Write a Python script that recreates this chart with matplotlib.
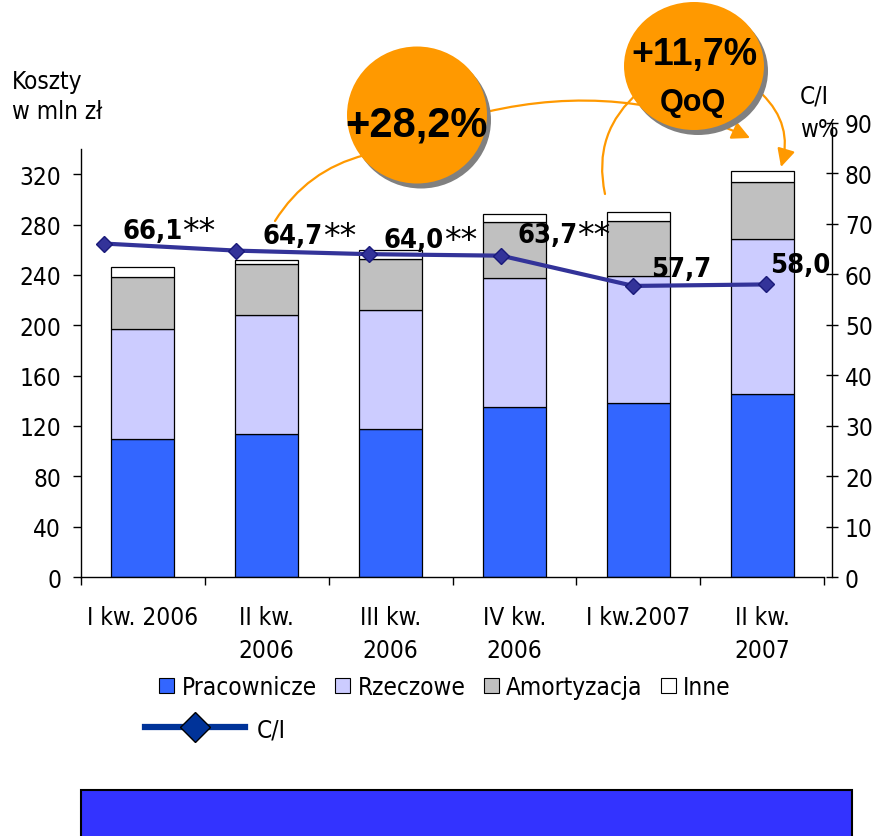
import matplotlib
matplotlib.use('Agg')
import matplotlib.pyplot as plt
from matplotlib.patches import Ellipse, Rectangle, FancyArrowPatch, Patch, ArrowStyle
from matplotlib.lines import Line2D
import numpy as np

plt.rcParams['font.family'] = ['DejaVu Sans']
plt.rcParams['font.stretch'] = 'condensed'

# ---------------- data ----------------
categories = ['I kw. 2006', 'II kw.\n2006', 'III kw.\n2006', 'IV kw.\n2006', 'I kw.2007', 'II kw.\n2007']
pracownicze = [109.5, 113.5, 117.5, 135.0, 138.0, 145.0]
rzeczowe = [87.8, 95.0, 94.6, 102.3, 100.9, 123.3]
amortyzacja = [40.7, 40.5, 40.9, 44.4, 43.6, 45.3]
inne = [7.9, 2.6, 7.0, 6.4, 7.3, 8.7]
ci_values = [66.1, 64.7, 64.0, 63.7, 57.7, 58.0]
ci_labels = ['66,1', '64,7', '64,0', '63,7', '57,7', '58,0']
ci_suffix = ['**', '**', '**', '**', '', '']
series_names = ['Pracownicze', 'Rzeczowe', 'Amortyzacja', 'Inne']
left_ticks = [0, 40, 80, 120, 160, 200, 240, 280, 320]
right_ticks = [0, 10, 20, 30, 40, 50, 60, 70, 80, 90]
bubble1_text = '+28,2%'
bubble2_text = '+11,7%'
bubble2_sub = 'QoQ'

# ---------------- styles ----------------
colors = ['#3366FF', '#CCCCFF', '#C0C0C0', '#FFFFFF']
line_color = '#333399'
orange = '#FF9900'
FS = 17.5
BUB_FONT = ['Liberation Sans', 'DejaVu Sans']

W, H = 876, 837
fig = plt.figure(figsize=(W / 100, H / 100), dpi=100)


def fx(x):
    return x / W


def fy(y):
    return 1 - y / H


# bar axes
ax = fig.add_axes([fx(81), fy(578), (824 - 81) / W, (578 - 150) / H])
x = np.arange(len(categories))
bottom = np.zeros(len(categories))
for vals, c, name in zip([pracownicze, rzeczowe, amortyzacja, inne], colors, series_names):
    ax.bar(x, vals, width=0.51, bottom=bottom, color=c, edgecolor='black', linewidth=0.9, label=name, zorder=2)
    bottom += np.array(vals)
ax.set_xlim(-0.5, 5.5)
ax.set_ylim(0, 340)
for s in ['top', 'right']:
    ax.spines[s].set_visible(False)
for s in ['left', 'bottom']:
    ax.spines[s].set_linewidth(1.0)
ax.set_yticks(left_ticks)
ax.tick_params(axis='y', direction='out', length=5.8, width=1.0, pad=8.5, labelsize=FS)
ax.set_xticks(np.arange(-0.5, 6.0, 1.0))
ax.set_xticklabels([])
ax.set_xticks(x, labels=categories, minor=True)
ax.tick_params(axis='x', which='major', direction='out', length=5.5, width=1.0)
ax.tick_params(axis='x', which='minor', length=0, pad=20.5, labelsize=FS)
for lab in ax.get_xticklabels(minor=True):
    lab.set_linespacing(1.45)

# line axes (secondary chart)
ax2 = fig.add_axes([fx(38), fy(578), (832 - 38) / W, (578 - 124) / H])
ax2.patch.set_visible(False)
ax2.set_xlim(-0.5, 5.5)
ax2.set_ylim(0, 90)
for s in ['top', 'left', 'bottom']:
    ax2.spines[s].set_visible(False)
ax2.spines['right'].set_linewidth(1.0)
ax2.yaxis.tick_right()
ax2.set_yticks(right_ticks)
ax2.set_xticks([])
ax2.tick_params(axis='y', direction='inout', length=8.6, width=1.0, pad=5, labelsize=FS)
ax2.plot(x, ci_values, color=line_color, lw=3, marker='D', ms=8, mfc=line_color, mec='#1a1a7a', mew=1, zorder=3)

lab_dx = [18, 26, 15, 16, 18, 4]
lab_dy = [6, 8, 7, 14, 10, 12]
for xi, v, lab, suf, dx, dy in zip(x, ci_values, ci_labels, ci_suffix, lab_dx, lab_dy):
    t = ax2.annotate(lab, (xi, v), xytext=(dx, dy), textcoords='offset pixels',
                     ha='left', va='baseline', fontsize=19.5, fontweight='bold', zorder=5)
    if suf:
        ax2.annotate(suf, xy=(1, 1), xycoords=t, xytext=(0, 3), textcoords='offset pixels',
                     ha='left', va='top', fontsize=24, stretch='normal', zorder=5)

# axis titles
fig.text(fx(12), fy(89), 'Koszty', fontsize=FS, ha='left', va='baseline')
fig.text(fx(12), fy(119), 'w mln zł', fontsize=FS, ha='left', va='baseline')
fig.text(fx(800), fy(103), 'C/I', fontsize=FS, ha='left', va='baseline')
fig.text(fx(800), fy(137), 'w%', fontsize=FS, ha='left', va='baseline')

# curved arrows
head = ArrowStyle('-|>', head_length=0.6, head_width=0.3)
arcs = [
    ((275, 222), (365, 156), -0.2, '-'),
    ((486, 113), (750, 139), -0.17, head),
    ((605, 195), (640, 92), -0.3, '-'),
    ((762, 95), (781, 168), -0.3, head),
]
for (a, b, rad, style) in arcs:
    p = FancyArrowPatch((fx(a[0]), fy(a[1])), (fx(b[0]), fy(b[1])), transform=fig.transFigure,
                        connectionstyle=f'arc3,rad={rad}', arrowstyle=style, mutation_scale=18,
                        color=orange, lw=1.6, shrinkA=0, shrinkB=0, zorder=5)
    fig.add_artist(p)

# bubbles
for (cx, cy, w, h) in [(417, 116, 140, 137), (694, 67, 140, 128)]:
    sh = Ellipse((fx(cx + 4), fy(cy + 5)), w / W, h / H, transform=fig.transFigure,
                 facecolor='#808080', edgecolor='none', zorder=6)
    fig.add_artist(sh)
    el = Ellipse((fx(cx), fy(cy)), w / W, h / H, transform=fig.transFigure,
                 facecolor=orange, edgecolor='none', zorder=7)
    fig.add_artist(el)

fig.text(fx(416), fy(137), bubble1_text, ha='center', va='baseline', fontsize=30, fontweight='bold',
         family=BUB_FONT, stretch='normal', zorder=8)
fig.text(fx(694), fy(65), bubble2_text, ha='center', va='baseline', fontsize=27, fontweight='bold',
         family=BUB_FONT, stretch='normal', zorder=8)
fig.text(fx(693), fy(111), bubble2_sub, ha='center', va='baseline', fontsize=22, fontweight='bold',
         family=BUB_FONT, stretch='normal', zorder=8)

# legends
handles = [Patch(facecolor=c, edgecolor='black', linewidth=0.8) for c in colors]
fig.legend(handles, series_names, loc='center', bbox_to_anchor=(fx(445), fy(688)), ncol=4,
           frameon=False, fontsize=FS, handlelength=0.62, handleheight=0.62, handletextpad=0.3,
           columnspacing=0.75, borderpad=0, borderaxespad=0)
ci_handle = Line2D([], [], color='#003399', lw=4.5, marker='D', ms=15, mfc='#003399', mec='black', mew=1)
fig.legend([ci_handle], ['C/I'], loc='center left', bbox_to_anchor=(fx(145), fy(730)),
           frameon=False, fontsize=FS, handlelength=4.1, handletextpad=0.5, borderpad=0, borderaxespad=0)

# bottom blue box
box = Rectangle((fx(81), fy(850)), (852 - 81) / W, (850 - 791) / H, transform=fig.transFigure,
                facecolor='#3333FF', edgecolor='black', lw=1.5, zorder=3)
fig.add_artist(box)

fig.savefig('out.png', dpi=100)
